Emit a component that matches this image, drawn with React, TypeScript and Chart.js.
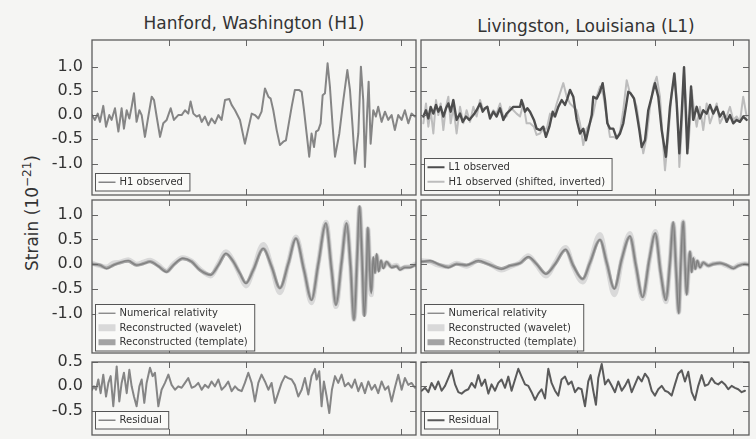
import { useEffect, useRef } from "react";
import { Chart, registerables } from "chart.js";

Chart.register(...registerables);

const FONT = '"DejaVu Sans", sans-serif';
const TEXT = "#333333";

// ---- axes ----
const X_MIN = 0.25;
const X_MAX = 0.46;
const xTicks = [0.3, 0.35, 0.4, 0.45];
const yTicksMain = [-1.0, -0.5, 0.0, 0.5, 1.0];
const yTicksResidual = [-0.5, 0.0, 0.5];

// ---- H1 observed (top left) ----
const h1ObsTimes = [0.2500,0.2519,0.2537,0.2552,0.2573,0.2591,0.2612,0.2627,0.2649,0.2671,0.2692,0.2707,0.2725,0.2742,0.2757,0.2772,0.2789,0.2807,0.2822,0.2843,0.2865,0.2887,0.2902,0.2919,0.2941,0.2962,0.2984,0.3010,0.3031,0.3059,0.3081,0.3103,0.3124,0.3139,0.3157,0.3178,0.3196,0.3211,0.3232,0.3254,0.3275,0.3297,0.3319,0.3340,0.3362,0.3390,0.3405,0.3427,0.3459,0.3491,0.3513,0.3535,0.3556,0.3578,0.3599,0.3621,0.3643,0.3658,0.3675,0.3697,0.3718,0.3740,0.3757,0.3772,0.3794,0.3815,0.3841,0.3859,0.3874,0.3891,0.3908,0.3923,0.3939,0.3952,0.3967,0.3982,0.3995,0.4010,0.4027,0.4042,0.4060,0.4075,0.4103,0.4129,0.4155,0.4172,0.4189,0.4204,0.4226,0.4243,0.4258,0.4269,0.4284,0.4293,0.4306,0.4323,0.4340,0.4355,0.4377,0.4399,0.4420,0.4442,0.4463,0.4485,0.4507,0.4528,0.4550,0.4571,0.4593];
const h1Obs = [0.00,-0.10,0.03,-0.14,0.19,-0.24,0.00,-0.10,0.14,-0.34,0.14,-0.28,0.10,-0.07,0.17,0.45,-0.14,0.10,0.00,-0.45,-0.03,0.38,0.31,-0.03,-0.45,-0.17,-0.10,0.14,-0.10,0.00,0.00,0.10,0.03,0.28,0.03,-0.03,0.00,-0.14,-0.03,-0.21,-0.07,-0.17,0.00,-0.10,0.31,0.33,0.21,0.10,-0.10,-0.59,-0.28,0.03,0.00,-0.07,0.07,0.55,0.38,0.34,0.10,-0.31,-0.62,-0.55,-0.52,-0.24,0.17,0.52,0.52,0.48,0.10,-0.38,-0.86,-0.38,-0.66,-0.34,-0.31,-0.17,0.41,0.45,1.07,0.59,-0.24,-0.86,-0.38,0.31,0.93,0.52,-0.24,-1.00,-0.38,1.00,0.31,-1.07,0.10,0.69,-0.59,0.10,-0.03,0.17,-0.14,0.07,-0.10,0.00,-0.31,0.00,-0.10,0.10,-0.17,0.03,-0.03];

// ---- L1 observed (top right) ----
const l1ObsTimes = [0.2515,0.2532,0.2547,0.2562,0.2579,0.2596,0.2611,0.2626,0.2643,0.2660,0.2675,0.2690,0.2707,0.2728,0.2750,0.2767,0.2788,0.2809,0.2835,0.2856,0.2878,0.2895,0.2910,0.2925,0.2942,0.2963,0.2984,0.3006,0.3027,0.3048,0.3070,0.3091,0.3112,0.3134,0.3144,0.3166,0.3181,0.3198,0.3223,0.3240,0.3262,0.3283,0.3300,0.3322,0.3343,0.3358,0.3379,0.3401,0.3422,0.3437,0.3454,0.3475,0.3497,0.3518,0.3539,0.3556,0.3578,0.3593,0.3603,0.3625,0.3642,0.3663,0.3678,0.3693,0.3710,0.3731,0.3753,0.3774,0.3795,0.3812,0.3827,0.3842,0.3864,0.3881,0.3898,0.3913,0.3934,0.3955,0.3977,0.3998,0.4019,0.4041,0.4068,0.4094,0.4122,0.4137,0.4154,0.4169,0.4184,0.4194,0.4205,0.4218,0.4229,0.4243,0.4265,0.4286,0.4307,0.4329,0.4350,0.4371,0.4393,0.4414,0.4435,0.4457,0.4478,0.4499,0.4521,0.4542,0.4563,0.4585];
const l1Obs = [-0.03,0.10,-0.07,0.17,0.03,0.21,0.07,0.17,-0.03,0.14,0.24,0.07,0.31,-0.10,0.03,-0.14,-0.03,-0.10,0.00,0.10,0.24,0.07,0.14,0.17,-0.07,0.07,-0.03,0.14,-0.10,0.03,0.10,0.17,0.17,0.17,0.31,0.07,0.14,0.07,-0.10,-0.28,-0.31,-0.24,-0.45,-0.24,0.07,-0.03,0.17,0.31,0.21,0.34,0.52,0.38,-0.10,-0.38,-0.28,-0.52,-0.21,0.00,0.38,0.34,0.45,0.66,0.31,-0.17,-0.28,-0.28,-0.48,-0.38,-0.17,0.17,0.48,0.45,0.34,0.03,-0.31,-0.66,-0.52,0.10,0.38,0.66,0.38,-0.31,-0.86,0.17,0.86,0.24,-0.79,0.03,0.99,0.17,-0.79,-0.03,0.59,-0.10,0.17,-0.07,0.10,0.03,0.21,0.03,0.17,-0.03,0.07,-0.14,0.00,-0.17,-0.10,-0.14,-0.03,-0.10];

// ---- H1 observed, shifted and inverted (top right) ----
const h1ShiftTimes = [0.2515,0.2532,0.2547,0.2562,0.2579,0.2596,0.2611,0.2626,0.2643,0.2660,0.2675,0.2690,0.2707,0.2728,0.2750,0.2771,0.2792,0.2814,0.2835,0.2856,0.2878,0.2899,0.2920,0.2942,0.2963,0.2984,0.3006,0.3027,0.3048,0.3070,0.3091,0.3112,0.3134,0.3155,0.3176,0.3198,0.3223,0.3240,0.3262,0.3283,0.3305,0.3326,0.3347,0.3369,0.3390,0.3411,0.3433,0.3454,0.3475,0.3497,0.3518,0.3539,0.3561,0.3582,0.3603,0.3625,0.3646,0.3667,0.3689,0.3710,0.3731,0.3753,0.3774,0.3795,0.3817,0.3838,0.3859,0.3881,0.3902,0.3923,0.3945,0.3966,0.3987,0.4009,0.4030,0.4047,0.4062,0.4083,0.4105,0.4126,0.4143,0.4154,0.4169,0.4184,0.4201,0.4211,0.4222,0.4233,0.4248,0.4265,0.4286,0.4307,0.4329,0.4350,0.4371,0.4393,0.4414,0.4435,0.4457,0.4478,0.4499,0.4521,0.4542,0.4563,0.4585];
const h1Shift = [-0.17,0.24,-0.24,0.10,-0.38,0.31,0.00,0.24,-0.31,0.17,0.38,-0.17,0.17,-0.38,0.17,-0.17,0.10,-0.14,0.17,-0.03,0.31,0.10,0.17,-0.03,0.10,0.03,0.24,-0.03,-0.03,0.17,0.10,0.03,-0.03,0.24,-0.17,-0.17,-0.24,-0.41,-0.38,-0.28,-0.28,0.03,-0.03,0.24,0.45,0.66,0.38,0.24,0.17,0.10,-0.17,-0.62,-0.28,-0.17,0.03,0.38,0.59,0.41,-0.03,-0.45,-0.45,-0.48,-0.34,0.10,0.72,0.45,0.38,0.17,-0.31,-0.79,-0.45,0.17,0.59,0.79,0.38,-0.45,-1.14,-0.45,0.45,0.83,0.03,-1.07,-0.31,0.90,-0.03,-0.69,-0.17,0.52,0.10,-0.24,0.17,-0.31,0.24,-0.17,0.03,0.24,-0.17,-0.03,-0.03,0.17,-0.10,-0.03,-0.14,0.38,-0.03];

// ---- H1 reconstructions (middle left) ----
const h1ModelTimes = [0.2500,0.2552,0.2595,0.2638,0.2681,0.2735,0.2789,0.2833,0.2876,0.2930,0.2984,0.3027,0.3088,0.3146,0.3200,0.3269,0.3319,0.3368,0.3416,0.3459,0.3498,0.3545,0.3610,0.3664,0.3718,0.3772,0.3822,0.3874,0.3923,0.3967,0.4016,0.4053,0.4081,0.4118,0.4150,0.4176,0.4198,0.4219,0.4234,0.4250,0.4265,0.4280,0.4288,0.4301,0.4310,0.4323,0.4334,0.4345,0.4358,0.4373,0.4388,0.4409,0.4442,0.4474,0.4496,0.4528,0.4561,0.4593];
const h1NR = [0.00,-0.02,-0.09,-0.02,0.03,0.07,-0.02,0.01,0.05,-0.04,-0.16,-0.02,0.12,0.05,-0.12,-0.22,-0.02,0.22,0.05,-0.19,-0.39,-0.12,0.32,-0.05,-0.49,0.01,0.52,-0.12,-0.73,0.01,0.83,-0.12,-0.83,0.05,0.83,-0.05,-1.14,0.15,1.18,0.15,-1.06,-0.05,0.75,-0.19,-0.60,0.15,-0.19,0.22,-0.16,0.08,-0.09,0.05,-0.07,-0.04,-0.12,-0.07,-0.07,-0.02];
const h1Wavelet = [0.02,-0.03,-0.06,0.02,0.04,0.09,0.00,0.04,0.08,-0.02,-0.14,0.00,0.13,0.06,-0.10,-0.24,0.00,0.25,0.06,-0.22,-0.44,-0.12,0.40,-0.05,-0.58,0.02,0.55,-0.10,-0.78,0.02,0.85,-0.10,-0.86,0.06,0.85,-0.04,-1.12,0.14,1.15,0.14,-1.02,-0.04,0.72,-0.20,-0.62,0.12,-0.16,0.18,-0.12,0.06,-0.06,0.04,-0.05,-0.02,-0.10,-0.06,-0.05,0.00];
const h1Template = [0.00,-0.02,-0.08,-0.02,0.03,0.06,-0.02,0.01,0.05,-0.04,-0.15,-0.02,0.11,0.05,-0.12,-0.21,-0.02,0.21,0.05,-0.19,-0.38,-0.12,0.31,-0.05,-0.48,0.01,0.52,-0.12,-0.72,0.01,0.82,-0.12,-0.82,0.05,0.82,-0.05,-1.12,0.15,1.16,0.15,-1.04,-0.05,0.72,-0.18,-0.55,0.12,-0.16,0.18,-0.13,0.06,-0.07,0.04,-0.06,-0.04,-0.10,-0.06,-0.06,-0.02];

// ---- L1 reconstructions (middle right) ----
const l1ModelTimes = [0.2504,0.2558,0.2611,0.2675,0.2728,0.2792,0.2867,0.2931,0.3016,0.3070,0.3134,0.3187,0.3241,0.3300,0.3358,0.3426,0.3475,0.3535,0.3582,0.3646,0.3689,0.3738,0.3785,0.3838,0.3876,0.3919,0.3962,0.4000,0.4034,0.4068,0.4094,0.4115,0.4133,0.4150,0.4162,0.4179,0.4190,0.4201,0.4211,0.4222,0.4233,0.4243,0.4256,0.4269,0.4286,0.4307,0.4340,0.4371,0.4414,0.4457,0.4500,0.4532,0.4574,0.4610];
const l1NR = [0.05,0.07,0.00,-0.07,0.00,-0.02,0.07,0.00,-0.10,-0.03,0.02,0.15,0.00,-0.20,0.00,0.30,-0.03,-0.30,0.03,0.50,0.03,-0.50,0.10,0.57,-0.03,-0.67,0.10,0.63,-0.17,-0.73,0.03,0.85,-0.10,-1.00,-0.10,0.87,0.03,-0.63,-0.17,0.27,-0.17,0.13,-0.10,0.07,-0.07,0.03,-0.03,0.00,0.02,-0.02,-0.09,-0.03,0.00,-0.02];
const l1Wavelet = [0.07,0.05,-0.02,-0.05,0.02,-0.04,0.08,0.02,-0.12,-0.05,0.03,0.17,-0.02,-0.24,0.02,0.34,-0.05,-0.36,0.03,0.60,0.02,-0.62,0.08,0.62,-0.05,-0.70,0.08,0.66,-0.15,-0.76,0.03,0.83,-0.08,-0.98,-0.08,0.86,0.02,-0.60,-0.15,0.24,-0.14,0.12,-0.08,0.06,-0.06,0.03,-0.03,0.01,0.02,-0.03,-0.08,-0.02,0.01,-0.01];
const l1Template = [0.05,0.06,0.00,-0.06,0.00,-0.02,0.06,0.00,-0.09,-0.03,0.02,0.14,0.00,-0.19,0.00,0.29,-0.03,-0.30,0.03,0.49,0.03,-0.49,0.10,0.56,-0.03,-0.66,0.10,0.62,-0.16,-0.72,0.03,0.84,-0.10,-0.98,-0.10,0.85,0.03,-0.60,-0.15,0.24,-0.15,0.11,-0.09,0.06,-0.06,0.03,-0.03,0.00,0.02,-0.02,-0.08,-0.03,0.00,-0.02];

// ---- residuals (bottom) ----
const h1ResTimes = [0.2500,0.2513,0.2526,0.2541,0.2556,0.2573,0.2591,0.2606,0.2621,0.2638,0.2660,0.2677,0.2692,0.2707,0.2725,0.2742,0.2757,0.2772,0.2789,0.2807,0.2822,0.2839,0.2854,0.2876,0.2893,0.2908,0.2930,0.2951,0.2973,0.2995,0.3016,0.3038,0.3059,0.3081,0.3103,0.3124,0.3146,0.3167,0.3189,0.3211,0.3232,0.3254,0.3275,0.3297,0.3319,0.3340,0.3362,0.3383,0.3405,0.3427,0.3448,0.3470,0.3491,0.3513,0.3535,0.3556,0.3578,0.3599,0.3621,0.3643,0.3664,0.3686,0.3707,0.3729,0.3751,0.3772,0.3794,0.3815,0.3837,0.3859,0.3880,0.3902,0.3923,0.3945,0.3956,0.3973,0.3988,0.4003,0.4021,0.4038,0.4055,0.4075,0.4096,0.4118,0.4139,0.4161,0.4183,0.4204,0.4226,0.4247,0.4269,0.4291,0.4312,0.4334,0.4355,0.4377,0.4399,0.4420,0.4442,0.4463,0.4485,0.4507,0.4528,0.4550,0.4571,0.4593];
const h1Res = [-0.07,0.00,-0.07,0.14,-0.14,0.24,-0.21,0.07,0.21,-0.41,0.41,-0.31,0.07,0.28,-0.14,0.34,0.00,-0.21,-0.41,0.00,0.14,-0.34,0.07,0.38,0.21,0.28,-0.41,-0.07,0.07,0.24,0.03,-0.07,0.00,-0.03,0.07,0.17,-0.03,0.00,0.07,-0.07,0.03,-0.03,0.10,0.00,0.14,-0.07,0.00,0.10,-0.10,0.00,-0.07,-0.10,0.07,0.28,0.07,-0.31,0.07,0.24,0.10,-0.07,0.07,-0.34,-0.14,0.07,0.21,0.17,0.14,0.03,-0.21,-0.07,0.17,-0.17,0.21,0.36,0.14,0.31,-0.41,0.10,-0.21,-0.55,-0.07,0.21,0.07,0.24,0.00,0.07,-0.03,0.14,-0.10,0.07,-0.14,0.10,-0.07,0.03,-0.14,0.10,-0.07,0.00,-0.31,-0.03,0.24,-0.07,0.17,0.03,0.07,-0.03];
const l1ResTimes = [0.2504,0.2526,0.2547,0.2568,0.2590,0.2611,0.2632,0.2654,0.2675,0.2696,0.2718,0.2739,0.2760,0.2782,0.2803,0.2824,0.2846,0.2867,0.2888,0.2910,0.2931,0.2952,0.2974,0.2995,0.3016,0.3038,0.3059,0.3080,0.3102,0.3123,0.3144,0.3166,0.3187,0.3208,0.3230,0.3251,0.3272,0.3294,0.3315,0.3336,0.3358,0.3379,0.3400,0.3422,0.3443,0.3464,0.3486,0.3507,0.3528,0.3550,0.3571,0.3586,0.3603,0.3620,0.3635,0.3657,0.3678,0.3699,0.3721,0.3742,0.3763,0.3785,0.3806,0.3827,0.3849,0.3870,0.3891,0.3913,0.3934,0.3955,0.3977,0.3998,0.4019,0.4041,0.4062,0.4083,0.4105,0.4126,0.4147,0.4169,0.4190,0.4211,0.4233,0.4254,0.4275,0.4297,0.4318,0.4339,0.4361,0.4382,0.4403,0.4425,0.4446,0.4467,0.4489,0.4510,0.4531,0.4553,0.4574];
const l1Res = [-0.09,-0.03,-0.12,0.07,-0.06,0.10,-0.09,0.01,0.17,0.33,0.04,-0.12,-0.15,-0.09,-0.06,0.07,-0.03,0.23,0.01,0.14,-0.15,0.04,-0.09,0.07,0.14,-0.03,0.20,-0.09,0.14,0.36,0.20,0.04,0.01,-0.12,-0.28,-0.15,-0.06,-0.25,0.36,0.07,-0.09,-0.19,0.14,0.20,0.04,0.10,-0.12,-0.03,-0.06,-0.41,0.10,0.23,-0.09,-0.38,0.17,0.46,0.04,0.14,0.01,-0.12,0.10,-0.09,0.01,0.14,-0.12,0.04,0.20,0.10,0.26,0.17,-0.09,-0.19,-0.06,0.01,-0.09,-0.12,-0.19,0.04,0.26,0.33,0.10,0.30,-0.12,-0.28,0.01,0.23,0.01,0.04,0.17,0.07,0.04,0.10,0.04,-0.06,0.01,-0.03,-0.06,-0.12,-0.09];

const pts = (ts, vs) => ts.map((t, i) => ({ x: t, y: vs[i] }));

const PAD = 12;
const PADY = 24;
const AXW = 60;

const framePlugin = {
  id: "boxFrame",
  afterDatasetsDraw(chart, _args, opts) {
    const ctx = chart.ctx;
    const a = chart.chartArea;
    const xs = chart.scales.x;
    const ys = chart.scales.y;
    ctx.save();
    ctx.strokeStyle = "#666";
    ctx.lineWidth = 1;
    ctx.beginPath();
    xTicks.forEach((t) => {
      const px = Math.round(xs.getPixelForValue(t)) + 0.5;
      ctx.moveTo(px, a.top);
      ctx.lineTo(px, a.top + 6);
      ctx.moveTo(px, a.bottom);
      ctx.lineTo(px, a.bottom - 6);
    });
    (opts.yTicks || []).forEach((v) => {
      const py = Math.round(ys.getPixelForValue(v)) + 0.5;
      ctx.moveTo(a.left, py);
      ctx.lineTo(a.left + 6, py);
      ctx.moveTo(a.right, py);
      ctx.lineTo(a.right - 6, py);
    });
    ctx.stroke();
    ctx.strokeStyle = "#5c5c5c";
    ctx.lineWidth = 1.3;
    ctx.strokeRect(a.left, a.top, a.right - a.left, a.bottom - a.top);
    const dss = chart.data.datasets;
    ctx.font = "10px " + FONT;
    const rowH = 14.5;
    let tw = 0;
    dss.forEach((d) => { tw = Math.max(tw, ctx.measureText(d.label).width); });
    const w = 25 + tw + 6;
    const h = dss.length * rowH + 3;
    const x0 = Math.round(a.left + 3) + 0.5;
    const y0 = Math.round(a.bottom - (opts.gap || 5) - h) + 0.5;
    ctx.fillStyle = "rgba(250,250,248,0.92)";
    ctx.fillRect(x0, y0, w, h);
    ctx.strokeStyle = "#555";
    ctx.lineWidth = 1;
    ctx.strokeRect(x0, y0, w, h);
    ctx.textBaseline = "middle";
    ctx.textAlign = "left";
    dss.forEach((d, i) => {
      const cy = y0 + 1.5 + rowH * (i + 0.5);
      ctx.strokeStyle = d.borderColor;
      ctx.lineWidth = d.legendWidth || Math.min(d.borderWidth, 2);
      ctx.lineCap = "butt";
      ctx.beginPath();
      ctx.moveTo(x0 + 3, cy);
      ctx.lineTo(x0 + 20, cy);
      ctx.stroke();
      ctx.fillStyle = TEXT;
      ctx.fillText(d.label, x0 + 24, cy + 0.5);
    });
    ctx.restore();
  },
};

function Panel(p) {
  const ref = useRef(null);
  useEffect(() => {
    const chart = new Chart(ref.current, {
      type: "line",
      data: {
        datasets: p.series.map((s) => ({
          label: s.label,
          data: pts(s.times, s.values),
          borderColor: s.color,
          borderWidth: s.width,
          legendWidth: s.legendWidth,
          pointRadius: 0,
          fill: false,
          tension: 0,
          cubicInterpolationMode: s.smooth ? "monotone" : "default",
          order: s.order || 0,
          borderJoinStyle: "round",
          borderCapStyle: "round",
        })),
      },
      options: {
        responsive: false,
        animation: false,
        events: [],
        layout: { padding: { left: p.showY ? 0 : PAD, right: PAD, top: PADY, bottom: PADY } },
        scales: {
          x: { type: "linear", min: X_MIN, max: X_MAX, display: false },
          y: {
            type: "linear",
            min: p.yMin,
            max: p.yMax,
            display: p.showY,
            afterFit: (s) => { s.width = p.showY ? AXW : 0; },
            afterBuildTicks: (s) => { s.ticks = p.yTicks.map((v) => ({ value: v })); },
            grid: { display: false, drawTicks: false },
            border: { display: false },
            ticks: {
              padding: 9,
              color: TEXT,
              font: { family: FONT, size: 16 },
              callback: (v) => Number(v).toFixed(1),
            },
          },
        },
        plugins: {
          legend: { display: false },
          tooltip: { enabled: false },
          boxFrame: { yTicks: p.yTicks, gap: p.gap },
        },
      },
      plugins: [framePlugin],
    });
    return () => chart.destroy();
  }, []);
  const leftExtra = p.showY ? AXW : PAD;
  return (
    <canvas
      ref={ref}
      width={leftExtra + p.width + PAD}
      height={p.height + 2 * PADY}
      style={{ position: "absolute", left: p.left - leftExtra, top: p.top - PADY }}
    />
  );
}

const LX = 92, LW = 324, RX = 421, RW = 328;
const R1 = { top: 40, h: 155, min: -1.65, max: 1.55 };
const R2 = { top: 200, h: 153, min: -1.8, max: 1.3 };
const R3 = { top: 362, h: 73, min: -1.0, max: 0.5 };

export default function App() {
  const nr = (times, values) => ({ label: "Numerical relativity", times, values, color: "#808080", width: 1.3, smooth: true, order: 0, legendWidth: 1.3 });
  const wav = (times, values) => ({ label: "Reconstructed (wavelet)", times, values, color: "#d9d9d9", width: 5, smooth: true, order: 2, legendWidth: 7 });
  const tmp = (times, values) => ({ label: "Reconstructed (template)", times, values, color: "#a3a3a3", width: 3.2, smooth: true, order: 1, legendWidth: 6 });
  return (
    <div style={{ position: "absolute", left: 0, top: 0, width: 756, height: 439, background: "#f5f5f3", overflow: "hidden", fontFamily: FONT }}>
      <div style={{ position: "absolute", left: 254, top: 23, transform: "translate(-50%,-50%)", whiteSpace: "nowrap", fontSize: 17, color: TEXT }}>
        Hanford, Washington (H1)
      </div>
      <div style={{ position: "absolute", left: 586, top: 26, transform: "translate(-50%,-50%)", whiteSpace: "nowrap", fontSize: 17, color: TEXT }}>
        Livingston, Louisiana (L1)
      </div>
      <div style={{ position: "absolute", left: 32, top: 213, transform: "translate(-50%,-50%) rotate(-90deg)", whiteSpace: "nowrap", fontSize: 17, color: TEXT }}>
        Strain (10<span style={{ fontSize: 12, position: "relative", top: -7 }}>−21</span>)
      </div>

      <Panel left={LX} top={R1.top} width={LW} height={R1.h} yMin={R1.min} yMax={R1.max} yTicks={yTicksMain} showY gap={5}
        series={[{ label: "H1 observed", times: h1ObsTimes, values: h1Obs, color: "#858585", width: 2, legendWidth: 1.5 }]} />
      <Panel left={RX} top={R1.top} width={RW} height={R1.h} yMin={R1.min} yMax={R1.max} yTicks={yTicksMain} showY={false} gap={5}
        series={[
          { label: "L1 observed", times: l1ObsTimes, values: l1Obs, color: "#4d4d4d", width: 2.4, order: 0, legendWidth: 2 },
          { label: "H1 observed (shifted, inverted)", times: h1ShiftTimes, values: h1Shift, color: "#bdbdbd", width: 2, order: 1, legendWidth: 2 },
        ]} />

      <Panel left={LX} top={R2.top} width={LW} height={R2.h} yMin={R2.min} yMax={R2.max} yTicks={yTicksMain} showY gap={3}
        series={[nr(h1ModelTimes, h1NR), wav(h1ModelTimes, h1Wavelet), tmp(h1ModelTimes, h1Template)]} />
      <Panel left={RX} top={R2.top} width={RW} height={R2.h} yMin={R2.min} yMax={R2.max} yTicks={yTicksMain} showY={false} gap={3}
        series={[nr(l1ModelTimes, l1NR), wav(l1ModelTimes, l1Wavelet), tmp(l1ModelTimes, l1Template)]} />

      <Panel left={LX} top={R3.top} width={LW} height={R3.h} yMin={R3.min} yMax={R3.max} yTicks={yTicksResidual} showY gap={7}
        series={[{ label: "Residual", times: h1ResTimes, values: h1Res, color: "#858585", width: 2, legendWidth: 1.5 }]} />
      <Panel left={RX} top={R3.top} width={RW} height={R3.h} yMin={R3.min} yMax={R3.max} yTicks={yTicksResidual} showY={false} gap={7}
        series={[{ label: "Residual", times: l1ResTimes, values: l1Res, color: "#5a5a5a", width: 2, legendWidth: 2 }]} />
    </div>
  );
}
